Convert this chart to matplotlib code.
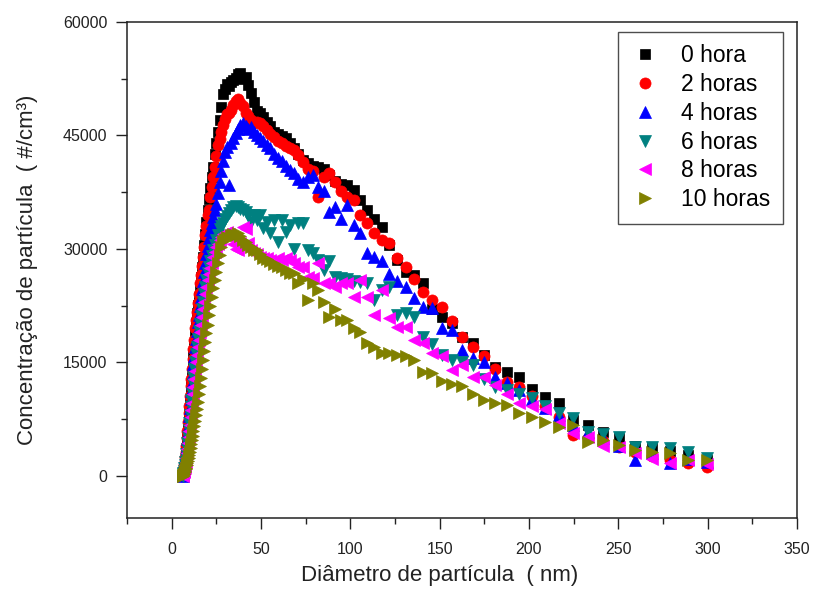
import matplotlib
matplotlib.use("Agg")
import matplotlib.pyplot as plt
from matplotlib.ticker import MultipleLocator

plt.rcParams['font.family'] = ['Liberation Sans', 'DejaVu Sans']

# particle diameter bins (nm)
diam = [6.15, 6.38, 6.61, 6.85, 7.10, 7.37, 7.64, 7.91, 8.20, 8.51,
        8.82, 9.14, 9.47, 9.82, 10.2, 10.6, 10.9, 11.3, 11.8, 12.2,
        12.6, 13.1, 13.6, 14.1, 14.6, 15.1, 15.7, 16.3, 16.8, 17.5,
        18.1, 18.8, 19.5, 20.2, 20.9, 21.7, 22.5, 23.3, 24.1, 25.0,
        25.9, 26.9, 27.9, 28.9, 30.0, 31.1, 32.2, 33.4, 34.6, 35.9,
        37.2, 38.5, 40.0, 41.4, 42.9, 44.5, 46.1, 47.8, 49.6, 51.4,
        53.3, 55.2, 57.3, 59.4, 61.5, 63.8, 66.1, 68.5, 71.0, 73.7,
        76.4, 79.1, 82.0, 85.1, 88.2, 91.4, 94.7, 98.2, 101.8, 105.5,
        109.4, 113.4, 117.6, 121.9, 126.3, 131.0, 135.8, 140.7, 145.9, 151.2,
        156.8, 162.5, 168.5, 174.7, 181.1, 187.7, 194.6, 201.7, 209.1, 216.7,
        224.7, 232.9, 241.4, 250.3, 259.5, 269.0, 278.8, 289.0, 299.6]

h0 = [0, 200, 500, 900, 1200, 1500, 2000, 2600, 3300, 4500,
      5300, 6200, 7300, 8500, 9800, 11300, 12300, 13500, 15000, 16300,
      17500, 18800, 20200, 21500, 22600, 23700, 25000, 26300, 27600, 29000,
      30500, 32000, 33500, 35200, 36600, 38000, 39500, 40800, 42500, 44000,
      45500, 47000, 48800, 50500, 51200, 51800, 51500, 52000, 52300, 52600,
      53100, 53300, 52500, 52700, 51600, 50600, 49400, 48200, 48000, 47500,
      46800, 46300, 45500, 45200, 44900, 44700, 44000, 43300, 42500, 41800,
      41400, 41000, 40800, 40600, 39800, 39000, 38600, 38500, 37800, 36500,
      35200, 34000, 32900, 30500, 28500, 27000, 26500, 25500, 22000, 21000,
      20200, 18400, 17600, 16000, 14400, 13800, 13100, 11500, 10400, 9700,
      7400, 6800, 5800, 5000, 3900, 3800, 3300, 2800, 2100]

h2 = [0, 300, 600, 1000, 1400, 1900, 2500, 3200, 4000, 5000,
      6000, 7200, 8300, 9300, 10600, 11900, 12800, 14100, 15500, 16800,
      18000, 19500, 20600, 21700, 22800, 24000, 25500, 26500, 27800, 29000,
      30200, 31800, 33000, 34500, 35200, 36900, 38200, 39500, 40800, 42300,
      43700, 44500, 45500, 46400, 47200, 47800, 48000, 48400, 49000, 49500,
      49800, 49300, 48900, 48000, 47600, 47000, 46600, 46800, 46700, 46200,
      45700, 45200, 44800, 44300, 44000, 43600, 43300, 43100, 42400, 41500,
      40500, 40300, 36900, 39500, 40100, 38800, 37600, 36800, 36500, 34500,
      33400, 32100, 31200, 30800, 28800, 27600, 26000, 24300, 23300, 22300,
      20500, 18400, 17100, 15800, 14200, 12400, 11800, 10600, 9300, 7800,
      5400, 5000, 4600, 3800, 3200, 2600, 2100, 1700, 1200]

h4 = [0, 200, 400, 700, 1000, 1400, 1900, 2500, 3200, 4000,
      4900, 5800, 6800, 7900, 9000, 10200, 11200, 12300, 13600, 14800,
      15900, 17000, 18100, 19200, 20300, 21300, 22500, 23600, 24700, 25800,
      27000, 28200, 29300, 30400, 31400, 32500, 33400, 34200, 35100, 36000,
      37400, 38800, 40300, 41600, 42800, 43500, 38500, 44000, 44700, 45300,
      45900, 46400, 46700, 46300, 45800, 46100, 45500, 45000, 44600, 44200,
      43800, 43400, 42600, 42000, 41600, 41000, 40400, 40000, 39200, 38900,
      39500, 39800, 38200, 37700, 34900, 35500, 34000, 35800, 33200, 32100,
      29500, 29000, 28400, 26700, 25800, 25000, 23500, 22300, 22200, 19600,
      19300, 16700, 15600, 15100, 13100, 12300, 11400, 10200, 9000, 8100,
      6800, 5800, 5000, 3900, 2100, 3100, 1700, 2200, 1900]

h6 = [0, 200, 400, 700, 1000, 1400, 1800, 2300, 2900, 3600,
      4400, 5200, 6100, 7000, 8000, 9100, 10000, 11000, 12100, 13100,
      14100, 15100, 16100, 17100, 18100, 19100, 20100, 21100, 22000, 23000,
      24000, 25000, 25900, 26800, 27600, 28400, 29100, 29800, 30500, 31200,
      31900, 32600, 33000, 33400, 33900, 34400, 34800, 35200, 35500, 35700,
      35600, 35300, 35200, 34900, 34500, 33600, 34500, 33800, 34500, 32800,
      33600, 32100, 33800, 30900, 33800, 32300, 33200, 30000, 33400, 33400,
      29900, 29500, 28600, 27200, 28400, 26300, 26200, 26000, 25800, 25600,
      25500, 23300, 24600, 25000, 21300, 21500, 21000, 18400, 17500, 16000,
      15300, 15100, 14700, 12800, 11800, 11400, 10800, 10300, 9200, 8300,
      7700, 5800, 5500, 5200, 3800, 3800, 3700, 3200, 2400]

h8 = [0, 100, 300, 500, 800, 1100, 1500, 1900, 2400, 3000,
      3600, 4300, 5100, 5900, 6800, 7800, 8700, 9700, 10800, 11800,
      12800, 13900, 15000, 16000, 17000, 18000, 19000, 20000, 21000, 22000,
      23000, 24000, 25000, 25900, 26700, 27500, 28200, 28900, 29600, 30200,
      30700, 31200, 31600, 32000, 32100, 32300, 32000, 31500, 30600, 30000,
      29800, 30800, 32900, 32600, 30800, 29800, 29500, 29300, 29000, 28800,
      28800, 28500, 28300, 28800, 28500, 28800, 28600, 28200, 27600, 27600,
      26300, 26200, 28200, 25500, 25500, 25000, 25500, 25500, 23700, 25900,
      23700, 21300, 24600, 20900, 19700, 19700, 18000, 17600, 16300, 15800,
      14000, 14700, 13100, 13100, 12000, 10800, 9600, 9300, 8900, 7000,
      5700, 5200, 4000, 3800, 3000, 2200, 1700, 2100, 1600]

h10 = [0, 0, 100, 200, 300, 500, 700, 900, 1100, 1400,
       1700, 2000, 2400, 2800, 3200, 3700, 4200, 4700, 5300, 5900,
       6600, 7300, 8100, 8900, 9800, 10800, 11900, 13000, 14100, 15300,
       16500, 17700, 18900, 20000, 21300, 22500, 23700, 24800, 25900, 27000,
       28100, 29200, 30200, 31000, 31300, 31600, 31500, 31800, 32000, 31900,
       32100, 31700, 31200, 30900, 30500, 30200, 29900, 29800, 29300, 28800,
       28700, 28400, 28000, 27800, 27600, 27200, 26800, 26800, 25500, 26000,
       23300, 25500, 24600, 23000, 21000, 22000, 20600, 20600, 19600, 19000,
       17600, 17000, 16300, 16300, 16000, 15900, 15300, 13700, 13600, 12500,
       12200, 11900, 10900, 10000, 9700, 9400, 8300, 7800, 7200, 6500,
       6700, 4500, 4800, 4100, 3400, 3200, 3000, 2100, 2100]

labels = ['0 hora', '2 horas', '4 horas', '6 horas', '8 horas', '10 horas']
series = [h0, h2, h4, h6, h8, h10]
colors = ['#000000', '#ff0000', '#0000ff', '#008080', '#ff00ff', '#808000']
markers = ['s', 'o', '^', 'v', '<', '>']
sizes = [7.5, 8, 9, 9, 9, 9]

fig = plt.figure(figsize=(8.15, 5.92), dpi=100)
ax = fig.add_axes([0.1558, 0.125, 0.822, 0.838])

for y, lab, c, m, s in zip(series, labels, colors, markers, sizes):
    ax.plot(diam, y, ls='none', marker=m, ms=s, color=c, mec=c, mew=0.5, label=lab)

ax.set_xlim(-25, 350)
ax.set_ylim(-5550, 60000)
ax.xaxis.set_major_locator(MultipleLocator(50))
ax.xaxis.set_minor_locator(MultipleLocator(25))
ax.yaxis.set_major_locator(MultipleLocator(15000))
ax.yaxis.set_minor_locator(MultipleLocator(7500))
ax.tick_params(which='both', direction='out', top=False, right=False, labelsize=11.5, colors='#222222')
ax.tick_params(which='major', length=8, width=1, pad=6)
ax.tick_params(which='minor', length=4, width=1)
ax.tick_params(axis='x', which='major', pad=9)
for sp in ax.spines.values():
    sp.set_linewidth(1.1)
    sp.set_color('#222222')

ax.set_xlabel('Diâmetro de partícula  ( nm)', fontsize=16, color='#222222')
ax.set_ylabel('Concentração de partícula  ( #/cm³)', fontsize=16, color='#222222')
ax.xaxis.set_label_coords(0.467, -0.095)
ax.yaxis.set_label_coords(-0.133, 0.5)

leg = ax.legend(loc='upper right', bbox_to_anchor=(0.979, 0.980), borderaxespad=0,
                fontsize=16.5, frameon=True, fancybox=False, handlelength=1.3,
                handletextpad=0.9, labelspacing=0.25, borderpad=0.55)
leg.get_frame().set_edgecolor('#222222')
leg.get_frame().set_linewidth(1.0)

fig.savefig('out.png', dpi=100)
